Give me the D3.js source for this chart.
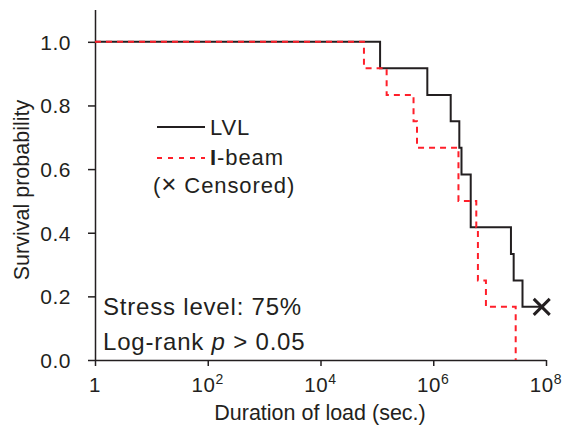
<!DOCTYPE html>
<html>
<head>
<meta charset="utf-8">
<script src="https://cdn.jsdelivr.net/npm/d3@7/dist/d3.min.js"></script>
<style>
  html, body { margin: 0; padding: 0; background: #fff; }
  svg { display: block; font-family: "Liberation Sans", Arial, sans-serif; }
</style>
</head>
<body>
<svg id="chart" width="567" height="431"></svg>
<script>
// ---- Data ----
// LVL: event times (sec) and survival after each event
const lvlTimes = [1, 1.14e5, 7.85e5, 2.04e6, 2.90e6, 3.17e6, 4.62e6, 2.39e7, 2.67e7, 3.83e7, 8.4e7];
const lvlSurv  = [1.0, 0.917, 0.833, 0.750, 0.667, 0.583, 0.417, 0.333, 0.250, 0.167, 0.167];
const lvlCensored = [{ t: 8.4e7, s: 0.167 }];
// I-beam
const ibeamTimes = [1, 5.9e4, 1.49e5, 4.47e5, 5.15e5, 2.8e6, 5.8e6, 6.2e6, 8.6e6, 2.9e7];
const ibeamSurv  = [1.0, 0.917, 0.833, 0.750, 0.667, 0.500, 0.417, 0.250, 0.167, 0.0];

const xTickValues = [1, 1e2, 1e4, 1e6, 1e8];
const xTickExp = ["", "2", "4", "6", "8"];
const yTickValues = [0, 0.2, 0.4, 0.6, 0.8, 1.0];

const legendLabels = ["LVL", "I-beam", "(\u00d7 Censored)"];

// ---- Layout ----
const svg = d3.select("#chart");
const textColor = "#231f20";
const x = d3.scaleLog().domain([1, 1e8]).range([95, 546]);
const y = d3.scaleLinear().domain([0, 1.1]).range([360, 10]);

// axes
const xAxis = d3.axisBottom(x).tickValues(xTickValues).tickSize(6).tickFormat("");
const gx = svg.append("g").attr("transform", "translate(0,360)").call(xAxis);
gx.select(".domain").attr("d", `M${x(1)},0.5H${x(1e8)}`);
const yAxis = d3.axisLeft(y).tickValues(yTickValues).tickSize(7).tickFormat(d3.format(".1f"));
const gy = svg.append("g").attr("transform", "translate(95,0)").call(yAxis);
gy.select(".domain").attr("d", `M0.5,${y(1.1)}V${y(0)}`);
[gx, gy].forEach(g => {
  g.selectAll("path,line").attr("stroke", textColor).attr("stroke-width", 1.5);
});
gy.selectAll("text").attr("font-size", 21).attr("letter-spacing", 0.5)
  .attr("fill", textColor).attr("x", -24).attr("dy", "0.35em")
  .attr("font-family", "Liberation Sans, Arial, sans-serif");

// x tick labels with superscripts
const xl = svg.append("g");
xTickValues.forEach((v, i) => {
  const t = xl.append("text")
    .attr("x", x(v)).attr("y", 392)
    .attr("text-anchor", "middle")
    .attr("font-size", 20.5).attr("letter-spacing", 0.6).attr("fill", textColor);
  if (i === 0) {
    t.text("1");
  } else {
    t.append("tspan").text("10");
    t.append("tspan").attr("dy", -8).attr("font-size", 14).text(xTickExp[i]);
  }
});

// axis titles
svg.append("text").attr("x", 320).attr("y", 420).attr("text-anchor", "middle")
  .attr("font-size", 21.5).attr("fill", textColor).text("Duration of load (sec.)");
svg.append("text").attr("transform", "translate(29,190) rotate(-90)")
  .attr("text-anchor", "middle").attr("font-size", 21.5).attr("fill", textColor)
  .text("Survival probability");

// ---- Curves ----
const line = d3.line().x(d => x(d[0])).y(d => y(d[1])).curve(d3.curveStepAfter);
const lvlPts = lvlTimes.map((t, i) => [t, lvlSurv[i]]);
const ibPts = ibeamTimes.map((t, i) => [t, ibeamSurv[i]]);

svg.append("path").datum(lvlPts).attr("d", line)
  .attr("fill", "none").attr("stroke", "#231f20").attr("stroke-width", 2);
svg.append("path").datum(ibPts).attr("d", line)
  .attr("fill", "none").attr("stroke", "#ff1f2a").attr("stroke-width", 2)
  .attr("stroke-dasharray", "6,5");

// censored marks
const cs = 8;
lvlCensored.forEach(c => {
  const cx = x(c.t), cy = y(c.s);
  svg.append("path")
    .attr("d", `M${cx - cs},${cy - cs}L${cx + cs},${cy + cs}M${cx - cs},${cy + cs}L${cx + cs},${cy - cs}`)
    .attr("stroke", "#231f20").attr("stroke-width", 3).attr("fill", "none");
});

// ---- Legend ----
const lg = svg.append("g");
lg.append("line").attr("x1", 157).attr("x2", 205).attr("y1", 127).attr("y2", 127)
  .attr("stroke", "#231f20").attr("stroke-width", 1.8);
lg.append("line").attr("x1", 157).attr("x2", 205).attr("y1", 158).attr("y2", 158)
  .attr("stroke", "#ff1f2a").attr("stroke-width", 1.8).attr("stroke-dasharray", "5,6");
lg.append("text").attr("x", 210).attr("y", 135).attr("font-size", 22).attr("letter-spacing", 0.9)
  .attr("fill", textColor).text(legendLabels[0]);
const ib = lg.append("text").attr("x", 210).attr("y", 165).attr("font-size", 22)
  .attr("letter-spacing", 0.9).attr("fill", textColor);
ib.append("tspan").attr("font-weight", "bold").text(legendLabels[1].slice(0, 1));
ib.append("tspan").text(legendLabels[1].slice(1));
const cz = lg.append("text").attr("x", 153).attr("y", 193).attr("font-size", 22)
  .attr("letter-spacing", 0.9).attr("fill", textColor);
cz.append("tspan").text(legendLabels[2].slice(0, 1));
cz.append("tspan").attr("font-size", 26).text(legendLabels[2].slice(1, 2));
cz.append("tspan").text(legendLabels[2].slice(2));
// ---- Annotation ----
svg.append("text").attr("x", 103).attr("y", 315).attr("font-size", 24).attr("letter-spacing", 0.8)
  .attr("fill", textColor).text("Stress level: 75%");
const lr = svg.append("text").attr("x", 103).attr("y", 350).attr("font-size", 24)
  .attr("letter-spacing", 0.8).attr("fill", textColor);
lr.append("tspan").text("Log-rank ");
lr.append("tspan").attr("font-style", "italic").text("p");
lr.append("tspan").text(" > 0.05");
</script>
</body>
</html>
